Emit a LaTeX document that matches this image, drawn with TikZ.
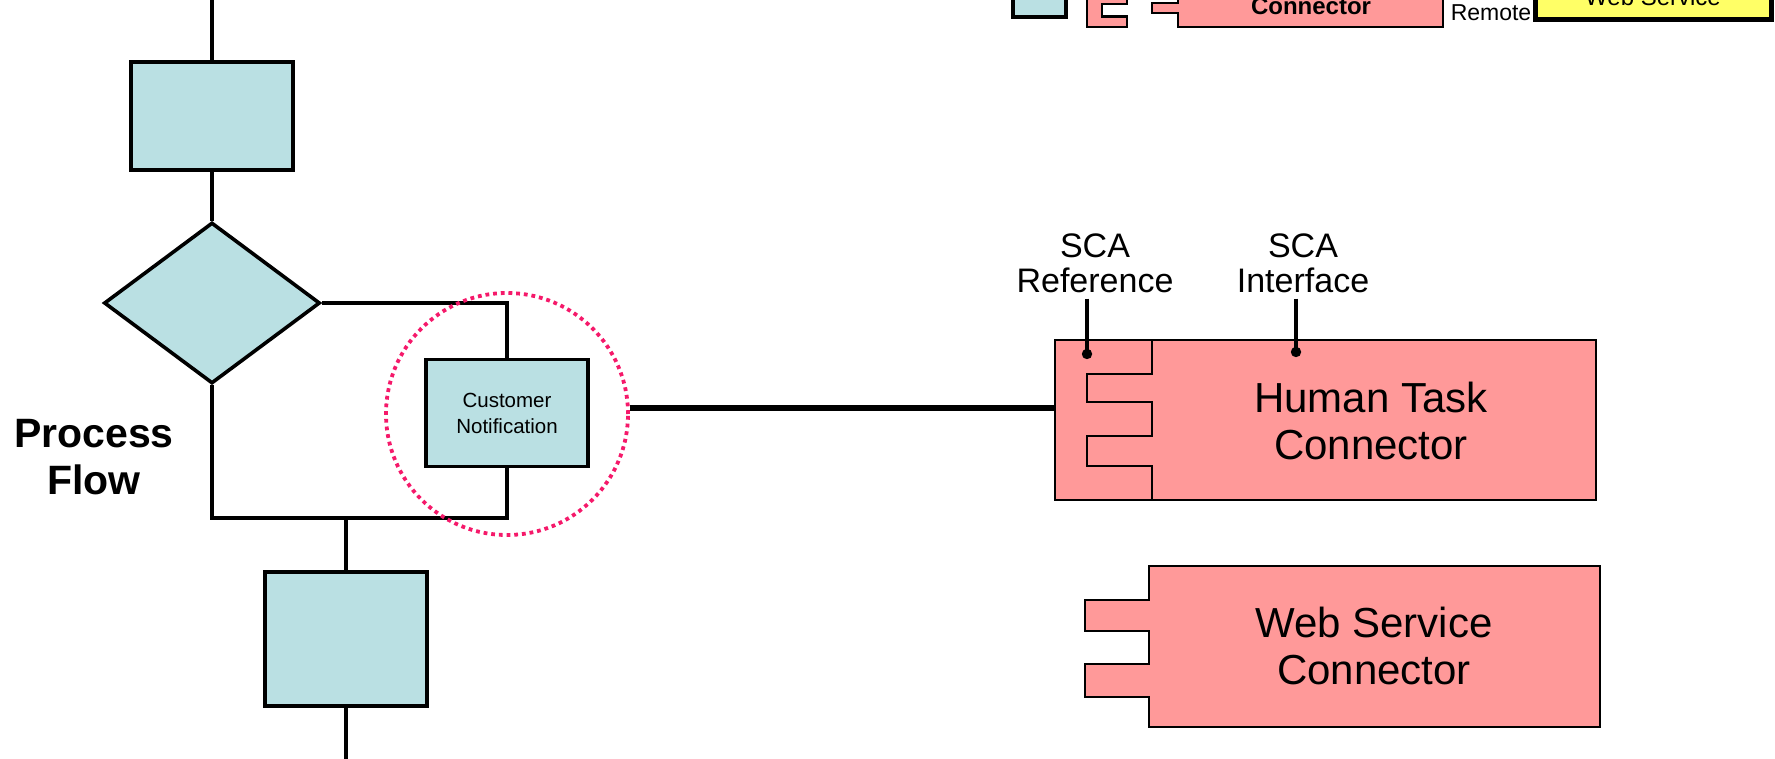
\documentclass[tikz,border=0pt]{standalone}
\usepackage{fontspec}
\setmainfont{Liberation Sans}
\usetikzlibrary{shapes.geometric}
\definecolor{flowblue}{HTML}{BAE0E3}
\definecolor{scapink}{HTML}{FF9999}
\definecolor{wsyellow}{HTML}{FFFF66}
\definecolor{ringpink}{HTML}{F5196A}
\tikzset{
  flowbox/.style={draw=black, fill=flowblue, line width=3.6pt, inner sep=0pt, minimum width=162pt},
  flowline/.style={draw=black, line width=3.6pt},
  comp/.style={draw=black, fill=scapink, line width=2.6pt, line join=miter},
  pinline/.style={draw=black, line width=4.2pt},
  bigtext/.style={align=center, font=\fontsize{42}{47.5}\selectfont, inner sep=0pt},
  labtext/.style={align=center, font=\fontsize{34}{35}\selectfont, inner sep=0pt},
  ring/.style={draw=ringpink, line width=3.8pt, dash pattern=on 3.8pt off 3.9pt, circle, minimum size=242pt, inner sep=0pt},
}
\begin{document}
\begin{tikzpicture}[x=1pt,y=-1pt]
\useasboundingbox (0,0) rectangle (1775,759);
\clip (0,0) rectangle (1775,759);

% ---------- process flow ----------
\coordinate (top) at (212,-5);
\node[flowbox, minimum height=108pt] (b1) at (212,116) {};
\node[draw=black, fill=flowblue, line width=3.6pt, diamond, minimum width=216pt, minimum height=161pt, inner sep=0pt] (dia) at (212,303) {};
\node[flowbox, minimum height=107pt, align=center, font=\fontsize{20.5}{26}\selectfont] (cn) at (507,413) {Customer\\Notification};
\node[flowbox, minimum height=134pt] (b2) at (346,639) {};
\coordinate (jl) at (212,518);
\coordinate (jr) at (507,518);
\coordinate (jm) at (346,518);
\coordinate (bot) at (346,765);

\draw[flowline] (top) -- (b1.north);
\draw[flowline] (b1.south) -- (dia.north);
\draw[flowline] (dia.east) -| (cn.north);
\draw[flowline] (cn.south) -- (jr) -- (jl) -- (dia.south);
\draw[flowline] (jm) -- (b2.north);
\draw[flowline] (b2.south) -- (bot);

\node[align=center, font=\fontsize{41}{47.5}\selectfont\bfseries, inner sep=0pt] (pf) at (94,457) {Process\\Flow};

\node[ring] (circ) at (507,414) {};

% ---------- Human Task Connector ----------
\node[comp, minimum width=97pt, minimum height=160pt, inner sep=0pt] (htref) at (1103.5,420) {};
\filldraw[comp] (1152,340) -- (1596,340) -- (1596,500) -- (1152,500) -- (1152,466) -- (1087,466)
  -- (1087,436) -- (1152,436) -- (1152,402) -- (1087,402) -- (1087,374) -- (1152,374) -- cycle;
\node[bigtext] (ht) at (1371,421) {Human Task\\Connector};

\coordinate (yconn) at (0,408);
\draw[black, line width=5.5pt] (circ.east |- yconn) -- (htref.west |- yconn);

\node[labtext] (scaref) at (1095,263) {SCA\\Reference};
\node[labtext] (scaif) at (1303,263) {SCA\\Interface};
\coordinate (refdot) at (1087,354);
\coordinate (ifdot) at (1296,352);
\draw[pinline] (scaref.south -| refdot) ++(0,6) -- (refdot);
\draw[pinline] (scaif.south -| ifdot) ++(0,6) -- (ifdot);
\fill (refdot) circle (5.2pt);
\fill (ifdot) circle (5.2pt);

% ---------- Web Service Connector ----------
\filldraw[comp] (1149,566) -- (1600,566) -- (1600,727) -- (1149,727) -- (1149,697) -- (1085,697)
  -- (1085,664) -- (1149,664) -- (1149,631) -- (1085,631) -- (1085,600) -- (1149,600) -- cycle;
\node[bigtext] (ws) at (1374,646) {Web Service\\Connector};

% ---------- partial top row ----------
\filldraw[draw=black, fill=flowblue, line width=4pt] (1013,-10) rectangle (1066,17);
\filldraw[comp] (1127,-10) -- (1087,-10) -- (1087,27) -- (1127,27) -- (1127,16.5) -- (1102,16.5) -- (1102,4) -- (1127,4) -- cycle;
\filldraw[comp] (1178,-10) -- (1443,-10) -- (1443,27) -- (1178,27) -- (1178,13) -- (1152,13) -- (1152,3) -- (1178,3) -- cycle;
\node[anchor=base, font=\fontsize{24}{26}\selectfont\bfseries, inner sep=0pt] (topconn) at (1311,15) {Connector};
\node[anchor=base, font=\fontsize{23}{26}\selectfont, inner sep=0pt] (remote) at (1491,21) {Remote};
\filldraw[draw=black, fill=wsyellow, line width=5pt] (1535,-10) rectangle (1771,20);
\node[anchor=base, font=\fontsize{24}{26}\selectfont, inner sep=0pt] (topws) at (1653,6) {Web Service};
\end{tikzpicture}
\end{document}
